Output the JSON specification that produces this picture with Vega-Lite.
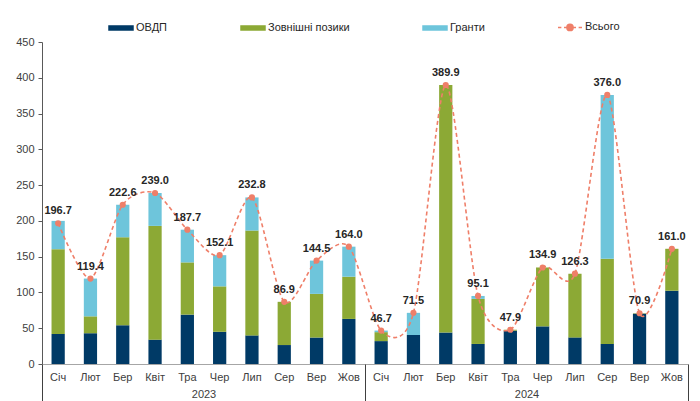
{
  "$schema": "https://vega.github.io/schema/vega-lite/v6.json",
  "width": 646,
  "height": 322,
  "autosize": {"type": "none"},
  "padding": {"left": 42, "top": 42, "right": 12, "bottom": 37},
  "config": {
    "font": "Liberation Sans",
    "view": {"stroke": null},
    "axis": {"labelFont": "Liberation Sans", "labelFontSize": 11, "labelColor": "#404040", "grid": false},
    "axisY": {
      "values": [0, 50, 100, 150, 200, 250, 300, 350, 400, 450],
      "labelOverlap": false,
      "labelFlush": false,
      "labelBound": false,
      "domainColor": "#595959",
      "tickColor": "#595959",
      "tickSize": 4,
      "labelPadding": 4
    }
  },
  "data": {
    "values": [
      {"period": "Січ 2023", "ОВДП": 42, "Зовнішні позики": 118.5, "Гранти": 39.5, "total": 196.7},
      {"period": "Лют 2023", "ОВДП": 43, "Зовнішні позики": 23.6, "Гранти": 52.8, "total": 119.4},
      {"period": "Бер 2023", "ОВДП": 54, "Зовнішні позики": 123, "Гранти": 45.6, "total": 222.6},
      {"period": "Квіт 2023", "ОВДП": 34, "Зовнішні позики": 159, "Гранти": 46, "total": 239.0},
      {"period": "Тра 2023", "ОВДП": 69, "Зовнішні позики": 73, "Гранти": 45.7, "total": 187.7},
      {"period": "Чер 2023", "ОВДП": 45, "Зовнішні позики": 63.5, "Гранти": 43.6, "total": 152.1},
      {"period": "Лип 2023", "ОВДП": 40, "Зовнішні позики": 146.5, "Гранти": 46.3, "total": 232.8},
      {"period": "Сер 2023", "ОВДП": 26.5, "Зовнішні позики": 60.4, "Гранти": 0, "total": 86.9},
      {"period": "Вер 2023", "ОВДП": 37, "Зовнішні позики": 61, "Гранти": 46.5, "total": 144.5},
      {"period": "Жов 2023", "ОВДП": 63, "Зовнішні позики": 59, "Гранти": 42, "total": 164.0},
      {"period": "Січ 2024", "ОВДП": 32, "Зовнішні позики": 12.5, "Гранти": 2.2, "total": 46.7},
      {"period": "Лют 2024", "ОВДП": 40.5, "Зовнішні позики": 0, "Гранти": 31, "total": 71.5},
      {"period": "Бер 2024", "ОВДП": 44, "Зовнішні позики": 345.9, "Гранти": 0, "total": 389.9},
      {"period": "Квіт 2024", "ОВДП": 28, "Зовнішні позики": 63, "Гранти": 4.1, "total": 95.1},
      {"period": "Тра 2024", "ОВДП": 46.6, "Зовнішні позики": 1.3, "Гранти": 0, "total": 47.9},
      {"period": "Чер 2024", "ОВДП": 52.6, "Зовнішні позики": 82.3, "Гранти": 0, "total": 134.9},
      {"period": "Лип 2024", "ОВДП": 37.2, "Зовнішні позики": 89.1, "Гранти": 0, "total": 126.3},
      {"period": "Сер 2024", "ОВДП": 28, "Зовнішні позики": 119, "Гранти": 229, "total": 376.0},
      {"period": "Вер 2024", "ОВДП": 70.3, "Зовнішні позики": 0.6, "Гранти": 0, "total": 70.9},
      {"period": "Жов 2024", "ОВДП": 102.4, "Зовнішні позики": 58.6, "Гранти": 0, "total": 161.0}
    ]
  },
  "layer": [
    {
      "encoding": {
        "x": {
          "field": "period",
          "type": "nominal",
          "sort": null,
          "scale": {"paddingInner": 0.59, "paddingOuter": 0.295},
          "axis": {
            "title": null,
            "orient": "bottom",
            "labelExpr": "split(datum.value, ' ')[0]",
            "labelAngle": 0,
            "ticks": false,
            "domainColor": "#A6A6A6",
            "domainWidth": 1,
            "labelPadding": 7
          }
        }
      },
      "layer": [
        {
          "transform": [{"fold": ["ОВДП", "Зовнішні позики", "Гранти"], "as": ["component", "value"]}],
          "mark": {"type": "bar"},
          "encoding": {
            "y": {
              "field": "value",
              "type": "quantitative",
              "stack": "zero",
              "scale": {"domain": [0, 450], "nice": false},
              "axis": {"title": null, "tickCount": 10}
            },
            "color": {
              "field": "component",
              "type": "nominal",
              "scale": {
                "domain": ["ОВДП", "Зовнішні позики", "Гранти", "Всього"],
                "range": ["#003A66", "#8CA935", "#6EC5DB", "#EF7F69"]
              },
              "legend": {
                "title": null,
                "orient": "none",
                "direction": "horizontal",
                "legendX": 66,
                "legendY": -28,
                "labelFontSize": 11,
                "labelColor": "#262626",
                "labelFont": "Liberation Sans",
                "labelOffset": 2,
                "columnPadding": 70,
                "symbolSize": 576,
                "encode": {
                  "symbols": {
                    "update": {
                      "shape": {"signal": "datum.label === 'Всього' ? 'M-1,0H-0.72M-0.5,0H-0.25M0.25,0H0.5M0.72,0H1M0.26,0A0.26,0.26,0,1,1,-0.26,0A0.26,0.26,0,1,1,0.26,0Z' : 'M-1,-0.17H1V0.17H-1Z'"},
                      "fill": {"signal": "scale('color', datum.value)"},
                      "stroke": {"signal": "datum.label === 'Всього' ? '#EF7F69' : null"},
                      "strokeWidth": {"value": 1.5},
                      "opacity": {"value": 1}
                    }
                  }
                }
              }
            },
            "order": {"field": "component", "sort": "descending"}
          }
        },
        {
          "mark": {"type": "line", "interpolate": "cardinal", "tension": 0.2, "strokeDash": [4, 3], "strokeWidth": 1.6},
          "encoding": {
            "y": {"field": "total", "type": "quantitative", "axis": {"title": null, "tickCount": 10}},
            "color": {"datum": "Всього"}
          }
        },
        {
          "mark": {"type": "point", "filled": true, "size": 38, "opacity": 1},
          "encoding": {
            "y": {"field": "total", "type": "quantitative", "axis": {"title": null, "tickCount": 10}},
            "color": {"datum": "Всього"}
          }
        },
        {
          "mark": {"type": "text", "fontWeight": "bold", "fontSize": 11, "baseline": "bottom", "dy": -7, "color": "#262626"},
          "encoding": {
            "y": {"field": "total", "type": "quantitative", "axis": {"title": null, "tickCount": 10}},
            "text": {"field": "total", "type": "quantitative", "format": ".1f"}
          }
        }
      ]
    },
    {
      "data": {"values": [{"year": "2023"}, {"year": "2024"}]},
      "mark": {"type": "point", "opacity": 0},
      "encoding": {
        "x": {
          "field": "year",
          "type": "nominal",
          "scale": {"paddingInner": 0, "paddingOuter": 0},
          "axis": {
            "title": null,
            "orient": "bottom",
            "domain": false,
            "ticks": true,
            "tickBand": "extent",
            "tickSize": 40,
            "tickColor": "#404040",
            "tickWidth": 1,
            "labelAngle": 0,
            "labelPadding": -16
          }
        }
      }
    }
  ],
  "resolve": {"scale": {"x": "independent"}}
}
